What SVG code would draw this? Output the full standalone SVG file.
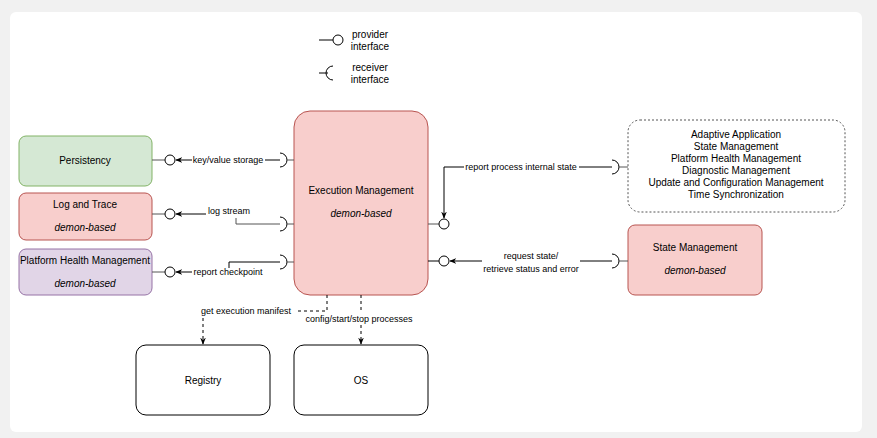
<svg xmlns="http://www.w3.org/2000/svg" width="877" height="438" viewBox="0 0 877 438">
<defs>
<marker id="ah" viewBox="0 0 10 10" refX="9" refY="5" markerWidth="7" markerHeight="7" orient="auto-start-reverse"><path d="M0,1 L10,5 L0,9 L3,5 Z" fill="#000"/></marker>
</defs>
<style>
text{font-family:"Liberation Sans",Arial,sans-serif;font-size:10px;fill:#000}
.lbl{font-size:9px}
.box{stroke-width:1}
.ln{fill:none;stroke:#000;stroke-width:1}
.gl{fill:none;stroke:#555;stroke-width:1}
.ic{fill:#fff;stroke:#000;stroke-width:1}
.sk{fill:none;stroke:#000;stroke-width:1}
.dash{fill:none;stroke:#000;stroke-width:1;stroke-dasharray:3 3}
.lb{fill:#fff}
</style>
<rect width="877" height="438" fill="#f1f1f1"/>
<rect x="10" y="12" width="852" height="420" rx="6" fill="#fff"/>
<g id="legend">
<line class="ln" x1="319" y1="40" x2="333" y2="40"/><circle class="ic" cx="338" cy="40" r="5"/>
<text x="370" y="38" text-anchor="middle">provider</text><text x="370" y="50" text-anchor="middle">interface</text>
<line class="ln" x1="319" y1="73" x2="328" y2="73"/><path class="sk" d="M333,66 A7,7 0 0 0 333,80"/>
<text x="370" y="71" text-anchor="middle">receiver</text><text x="370" y="83" text-anchor="middle">interface</text>
</g>
<g id="persistency"><rect x="19" y="136" width="133" height="50" rx="7" fill="#d5e8d4" stroke="#82b366"/><text x="85" y="164" text-anchor="middle">Persistency</text></g>
<g id="logtrace"><rect x="19" y="193" width="133" height="47" rx="7" fill="#f8cecc" stroke="#b85450"/><text x="85" y="208" text-anchor="middle">Log and Trace</text><text x="85" y="231" text-anchor="middle" font-style="italic">demon-based</text></g>
<g id="phm"><rect x="19" y="249" width="133" height="46" rx="7" fill="#e1d5e7" stroke="#9673a6"/><text x="85" y="264" text-anchor="middle">Platform Health Management</text><text x="85" y="287" text-anchor="middle" font-style="italic">demon-based</text></g>
<g id="em"><rect x="294" y="111" width="134" height="184" rx="16" fill="#f8cecc" stroke="#b85450"/><text x="361" y="194" text-anchor="middle">Execution Management</text><text x="361" y="217" text-anchor="middle" font-style="italic">demon-based</text></g>
<g id="apps"><rect x="628" y="120" width="217" height="92" rx="12" fill="#fff" stroke="#555" stroke-dasharray="2 2"/>
<text text-anchor="middle" x="736"><tspan x="736" y="138">Adaptive Application</tspan><tspan x="736" y="150">State Management</tspan><tspan x="736" y="162">Platform Health Management</tspan><tspan x="736" y="174">Diagnostic Management</tspan><tspan x="736" y="186">Update and Configuration Management</tspan><tspan x="736" y="198">Time Synchronization</tspan></text></g>
<g id="sm"><rect x="628" y="225" width="134" height="70" rx="7" fill="#f8cecc" stroke="#b85450"/><text x="695" y="251" text-anchor="middle">State Management</text><text x="695" y="274" text-anchor="middle" font-style="italic">demon-based</text></g>
<g id="registry"><rect x="136" y="345" width="134" height="70" rx="10" fill="#fff" stroke="#000"/><text x="203" y="384" text-anchor="middle">Registry</text></g>
<g id="os"><rect x="294" y="345" width="134" height="70" rx="10" fill="#fff" stroke="#000"/><text x="361" y="384" text-anchor="middle">OS</text></g>
<g id="connectors">
<line class="gl" x1="152" y1="160" x2="165" y2="160"/><circle class="ic" cx="170" cy="160" r="5"/>
<line class="ln" x1="192" y1="160" x2="176" y2="160" marker-end="url(#ah)"/>
<text class="lbl" x="228" y="163" text-anchor="middle">key/value storage</text>
<line class="ln" x1="265" y1="160" x2="280" y2="160"/><path class="sk" d="M280,153 A7,7 0 0 1 280,167"/><line class="gl" x1="287" y1="160" x2="294" y2="160"/>
<line class="gl" x1="152" y1="214" x2="165" y2="214"/><circle class="ic" cx="170" cy="214" r="5"/>
<line class="ln" x1="206" y1="214" x2="176" y2="214" marker-end="url(#ah)"/>
<text class="lbl" x="229" y="214" text-anchor="middle">log stream</text>
<path class="gl" d="M236,218 V224 H280"/><path class="sk" d="M280,217 A7,7 0 0 1 280,231"/><line class="gl" x1="287" y1="224" x2="294" y2="224"/>
<line class="gl" x1="152" y1="272" x2="165" y2="272"/><circle class="ic" cx="170" cy="272" r="5"/>
<line class="ln" x1="192" y1="272" x2="176" y2="272" marker-end="url(#ah)"/>
<text class="lbl" x="228" y="275" text-anchor="middle">report checkpoint</text>
<path class="ln" d="M229,268 V262 H280"/><path class="sk" d="M280,255 A7,7 0 0 1 280,269"/><line class="gl" x1="287" y1="262" x2="294" y2="262"/>
<line class="gl" x1="428" y1="224" x2="439" y2="224"/><circle class="ic" cx="444" cy="224" r="5"/>
<path class="ln" d="M464,167 H444 V218" marker-end="url(#ah)"/>
<text class="lbl" x="521" y="170" text-anchor="middle">report process internal state</text>
<line class="ln" x1="579" y1="167" x2="612" y2="167"/><path class="sk" d="M612,160 A7,7 0 0 1 612,174"/><line class="gl" x1="619" y1="167" x2="628" y2="167"/>
<line class="ln" x1="428" y1="261" x2="439" y2="261"/><circle class="ic" cx="444" cy="261" r="5"/>
<line class="ln" x1="482" y1="261" x2="450" y2="261" marker-end="url(#ah)"/>
<text class="lbl" x="531" y="259" text-anchor="middle">request state/</text><text class="lbl" x="531" y="272" text-anchor="middle">retrieve status and error</text>
<line class="ln" x1="580" y1="261" x2="612" y2="261"/><path class="sk" d="M612,254 A7,7 0 0 1 612,268"/><line class="gl" x1="619" y1="261" x2="628" y2="261"/>
<path class="dash" d="M327,295 V311 H298"/>
<text class="lbl" x="246" y="314" text-anchor="middle">get execution manifest</text>
<path class="dash" d="M203,318 V344" marker-end="url(#ah)"/>
<path class="dash" d="M361,295 V344" marker-end="url(#ah)"/>
<rect class="lb" x="303" y="313" width="112" height="11"/>
<text class="lbl" x="359" y="322" text-anchor="middle">config/start/stop processes</text>
</g>
</svg>
